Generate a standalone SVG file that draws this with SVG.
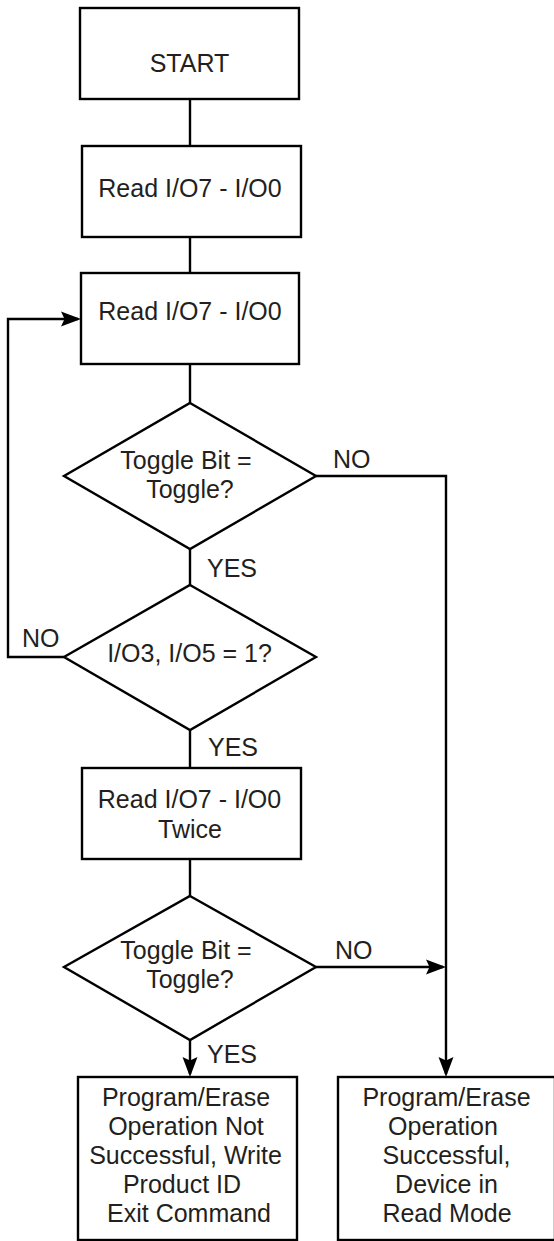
<svg xmlns="http://www.w3.org/2000/svg" width="554" height="1241" viewBox="0 0 554 1241">
  <style>
    .shape { fill: #ffffff; stroke: #000000; stroke-width: 2.4; }
    .conn { fill: none; stroke: #000000; stroke-width: 2.4; }
    text { font-family: "Liberation Sans", Arial, Helvetica, sans-serif; font-size: 25px; fill: #231f20; }
    .c { text-anchor: middle; }
  </style>
  <defs>
    <marker id="arrow" markerUnits="userSpaceOnUse" markerWidth="21" markerHeight="16" viewBox="0 0 21 16" refX="17" refY="8" orient="auto">
      <path d="M0,0.5 L20,8 L0,15.5 L3.5,8 Z" fill="#000000"/>
    </marker>
  </defs>
  <rect width="554" height="1241" fill="#ffffff"/>

  <g id="connectors">
    <line class="conn" x1="190" y1="99" x2="190" y2="146"/>
    <line class="conn" x1="190" y1="237" x2="190" y2="273"/>
    <line class="conn" x1="190" y1="364" x2="190" y2="403"/>
    <line class="conn" x1="190" y1="549" x2="190" y2="585"/>
    <line class="conn" x1="190" y1="730" x2="190" y2="768"/>
    <line class="conn" x1="190" y1="859" x2="190" y2="896"/>
    <path class="conn" d="M190,1040 L190,1074" marker-end="url(#arrow)"/>
    <path class="conn" d="M316,476 L446,476 L446,1074" marker-end="url(#arrow)"/>
    <path class="conn" d="M316,967 L443,967" marker-end="url(#arrow)"/>
    <path class="conn" d="M64,657 L8,657 L8,319 L78,319" marker-end="url(#arrow)"/>
    <text x="333" y="468">NO</text>
    <text x="207" y="577">YES</text>
    <text x="22" y="647">NO</text>
    <text x="208" y="756">YES</text>
    <text x="335" y="959">NO</text>
    <text x="207" y="1063">YES</text>
  </g>

  <g id="start">
    <rect class="shape" x="80" y="8" width="219" height="91"/>
    <text class="c" x="189.5" y="72">START</text>
  </g>
  <g id="read1">
    <rect class="shape" x="82" y="146" width="219" height="91"/>
    <text class="c" x="190" y="197">Read I/O7 - I/O0</text>
  </g>
  <g id="read2">
    <rect class="shape" x="81" y="273" width="218" height="91"/>
    <text class="c" x="190" y="320">Read I/O7 - I/O0</text>
  </g>
  <g id="toggle1">
    <polygon class="shape" points="190,403 316,476 190,549 64,476"/>
    <text class="c" x="186" y="469">Toggle Bit =</text>
    <text class="c" x="190" y="498">Toggle?</text>
  </g>
  <g id="io35">
    <polygon class="shape" points="190,585 316,657 190,730 64,657"/>
    <text class="c" x="189.5" y="662">I/O3, I/O5 = 1?</text>
  </g>
  <g id="readtwice">
    <rect class="shape" x="82" y="768" width="219" height="91"/>
    <text class="c" x="189.5" y="808">Read I/O7 - I/O0</text>
    <text class="c" x="190" y="838">Twice</text>
  </g>
  <g id="toggle2">
    <polygon class="shape" points="190,896 316,967 190,1040 64,967"/>
    <text class="c" x="186" y="959">Toggle Bit =</text>
    <text class="c" x="190" y="988">Toggle?</text>
  </g>
  <g id="fail">
    <rect class="shape" x="78" y="1077" width="219" height="163"/>
    <text class="c" x="186" y="1106">Program/Erase</text>
    <text class="c" x="186" y="1135">Operation Not</text>
    <text class="c" x="185.5" y="1164">Successful, Write</text>
    <text class="c" x="182" y="1193">Product ID</text>
    <text class="c" x="189" y="1222">Exit Command</text>
  </g>
  <g id="success">
    <rect class="shape" x="338" y="1077" width="217" height="163"/>
    <text class="c" x="446.5" y="1106">Program/Erase</text>
    <text class="c" x="443" y="1135">Operation</text>
    <text class="c" x="446.5" y="1164">Successful,</text>
    <text class="c" x="446.5" y="1193">Device in</text>
    <text class="c" x="447" y="1222">Read Mode</text>
  </g>
</svg>
